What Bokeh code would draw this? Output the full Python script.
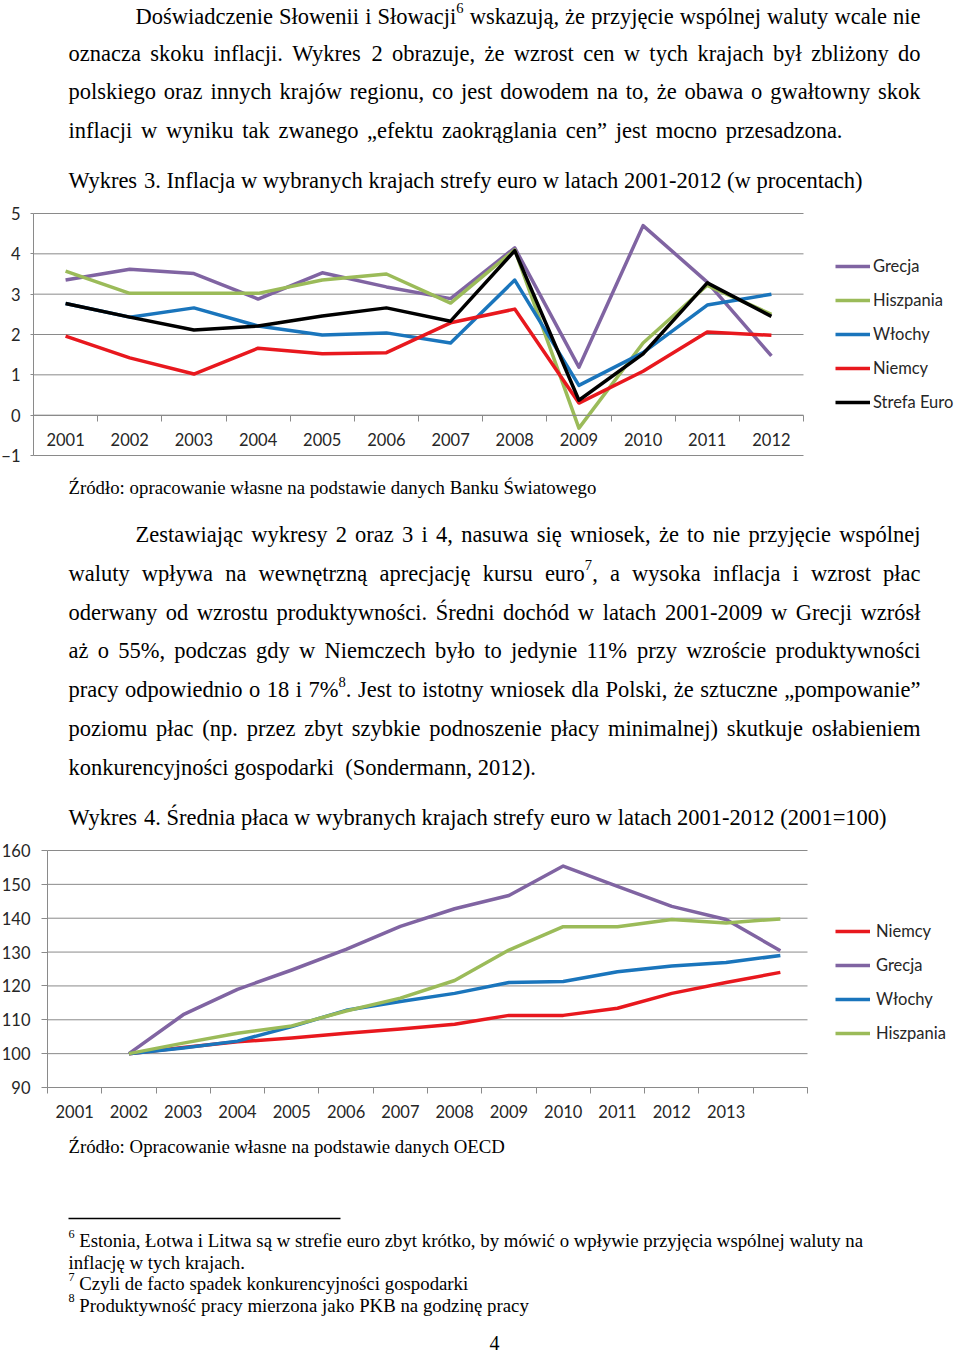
import re
from bokeh.plotting import figure
from bokeh.models import (Range1d, LinearAxis, FixedTicker, Legend, LegendItem,
                          CustomJSTickFormatter)
from bokeh.layouts import column
from bokeh.core.properties import value
from bokeh.embed import file_html
from bokeh.resources import INLINE

# ---------------- data: Wykres 3 (inflation, %) ----------------
years3 = ["2001", "2002", "2003", "2004", "2005", "2006",
          "2007", "2008", "2009", "2010", "2011", "2012"]
grecja3 = [3.35, 3.62, 3.51, 2.88, 3.53, 3.18, 2.89, 4.15, 1.19, 4.70, 3.30, 1.47]
hiszpania3 = [3.57, 3.02, 3.02, 3.02, 3.35, 3.50, 2.78, 4.10, -0.32, 1.79, 3.22, 2.50]
wlochy3 = [2.77, 2.43, 2.66, 2.21, 1.99, 2.04, 1.79, 3.35, 0.74, 1.55, 2.73, 3.00]
niemcy3 = [1.96, 1.42, 1.02, 1.66, 1.52, 1.55, 2.29, 2.63, 0.30, 1.09, 2.06, 1.98]
strefa3 = [2.77, 2.43, 2.11, 2.21, 2.46, 2.66, 2.33, 4.08, 0.37, 1.52, 3.28, 2.45]
yticks3 = [-1, 0, 1, 2, 3, 4, 5]
labels3 = ["Grecja", "Hiszpania", "Włochy", "Niemcy", "Strefa Euro"]

# ---------------- data: Wykres 4 (average wage, 2001=100) ----------------
years4 = ["2001", "2002", "2003", "2004", "2005", "2006", "2007",
          "2008", "2009", "2010", "2011", "2012", "2013"]
niemcy4 = [100, 101.8, 103.5, 104.6, 106.0, 107.3, 108.7, 111.3, 111.3, 113.4, 117.8, 121.0, 124.0]
grecja4 = [100, 111.5, 119.0, 124.7, 130.8, 137.6, 142.8, 146.7, 155.4, 149.4, 143.5, 139.6, 130.4]
wlochy4 = [100, 101.7, 103.7, 108.0, 112.8, 115.4, 117.8, 121.0, 121.3, 124.2, 125.9, 126.9, 129.0]
hiszpania4 = [100, 103.1, 106.0, 108.2, 112.6, 116.4, 121.6, 130.6, 137.5, 137.5, 139.6, 138.6, 139.8]
yticks4 = [90, 100, 110, 120, 130, 140, 150, 160]
labels4 = ["Niemcy", "Grecja", "Włochy", "Hiszpania"]

PURPLE, GREEN, BLUE, RED, BLACK = "#8064A2", "#9BBB59", "#1A75BC", "#E8181E", "#000000"
GRID = "#8a8a8a"
LBL = "#262626"
CFONT = "Lato"
SERIF = "Liberation Serif"
PAGE_L, PAGE_R = 0, 960     # page x covered by the figures

# ---------------- text helpers ----------------
TNR = {' ': 250, ',': 250, '.': 250, ':': 278, '(': 333, ')': 333, '-': 333, '%': 833,
       '=': 564, '„': 444, '”': 444,
       'a': 444, 'b': 500, 'c': 444, 'd': 500, 'e': 444, 'f': 333, 'g': 500, 'h': 500,
       'i': 278, 'j': 278, 'k': 500, 'l': 278, 'm': 778, 'n': 500, 'o': 500, 'p': 500,
       'q': 500, 'r': 333, 's': 389, 't': 278, 'u': 500, 'v': 500, 'w': 722, 'x': 500,
       'y': 500, 'z': 444,
       'A': 722, 'B': 667, 'C': 667, 'D': 722, 'E': 611, 'F': 556, 'G': 722, 'H': 722,
       'I': 333, 'J': 389, 'K': 722, 'L': 611, 'M': 889, 'N': 722, 'O': 722, 'P': 556,
       'Q': 722, 'R': 667, 'S': 556, 'T': 611, 'U': 722, 'V': 722, 'W': 944, 'X': 722,
       'Y': 722, 'Z': 611,
       'ą': 444, 'ć': 444, 'ę': 444, 'ł': 278, 'ń': 500, 'ó': 500, 'ś': 389, 'ź': 444,
       'ż': 444, 'Ł': 611, 'Ś': 556, 'Ź': 611, 'Ż': 611}
for _d in "0123456789":
    TNR[_d] = 500
SUP = 0.65


def tw(s, size):
    return sum(TNR.get(ch, 500) for ch in s) / 1000.0 * size


def parse_word(w):
    parts = re.split(r'\^(\d)', w)
    return [(p, i % 2 == 1) for i, p in enumerate(parts) if p != ""]


def layout_line(items, line, x0, base, size, justify_to=None):
    words = line.split(" ")
    segs = [parse_word(w) for w in words]
    widths = [sum(tw(t, size * SUP if s else size) for t, s in sg) for sg in segs]
    space = tw(" ", size)
    if justify_to is not None and len(words) > 1:
        space = (justify_to - x0 - sum(widths)) / (len(words) - 1)
    x = x0
    for sg in segs:
        for t, s in sg:
            if s:
                items.append((x, base - 0.36 * size, t, round(size * SUP, 1)))
                x += tw(t, size * SUP)
            else:
                items.append((x, base, t, size))
                x += tw(t, size)
        x += space


def draw_items(f, items, align="left"):
    groups = {}
    for x, y, t, s in items:
        groups.setdefault(s, []).append((x, y, t))
    for s, lst in groups.items():
        f.text(x=[a[0] for a in lst], y=[a[1] for a in lst], text=[a[2] for a in lst],
               text_font=value(SERIF), text_font_size=f"{s}px",
               text_baseline="alphabetic", text_align=align, text_color="black")


def text_fig(y_top, y_bot):
    f = figure(width=PAGE_R - PAGE_L, height=y_bot - y_top, x_range=Range1d(PAGE_L, PAGE_R),
               y_range=Range1d(y_bot, y_top), x_axis_type=None, y_axis_type=None,
               output_backend="svg", toolbar_location=None, min_border=0)
    f.outline_line_color = None
    return f


BODY = 22.5
SMALL = 18.8
RIGHT = 920

# ---------------- top text ----------------
t1 = text_fig(0, 200)
it = []
layout_line(it, "Doświadczenie Słowenii i Słowacji^6 wskazują, że przyjęcie wspólnej waluty wcale nie", 135, 16, BODY, RIGHT)
layout_line(it, "oznacza skoku inflacji. Wykres 2 obrazuje, że wzrost cen w tych krajach był zbliżony do", 68, 53, BODY, RIGHT)
layout_line(it, "polskiego oraz innych krajów regionu, co jest dowodem na to, że obawa o gwałtowny skok", 68, 91, BODY, RIGHT)
layout_line(it, "inflacji w wyniku tak zwanego „efektu zaokrąglania cen” jest mocno przesadzona.", 68, 130, BODY, 842)
layout_line(it, "Wykres 3. Inflacja w wybranych krajach strefy euro w latach 2001-2012 (w procentach)", 68, 180, BODY)
draw_items(t1, it)


# ---------------- chart builder ----------------
def make_chart(labels, n_slots, xpos, series, yticks, geom, x_fixed, tick_out_y,
               y_standoff, x_standoff, legend_loc, legend_standoff):
    top, bottom, fl, fr, ft, fb = geom
    ymin, ymax = yticks[0], yticks[-1]
    ux = (fr - fl) / n_slots
    uy = (fb - ft) / (ymax - ymin)
    p = figure(width=PAGE_R - PAGE_L, height=bottom - top,
               x_range=Range1d(-0.5 - (fl - PAGE_L) / ux, n_slots - 0.5 + (PAGE_R - fr) / ux),
               y_range=Range1d(ymin - (bottom - fb) / uy, ymax + (ft - top) / uy),
               output_backend="svg", toolbar_location=None, min_border=0)
    p.outline_line_color = None
    p.xgrid.visible = False
    p.ygrid.visible = False
    # horizontal gridlines across the category area only
    p.segment(x0=[-0.5] * len(yticks), x1=[n_slots - 0.5] * len(yticks), y0=yticks, y1=yticks,
              line_color=GRID, line_width=1)
    xa = p.xaxis[0]
    xa.ticker = FixedTicker(ticks=list(range(len(labels))))
    xa.major_label_overrides = {i: lab for i, lab in enumerate(labels)}
    xa.fixed_location = x_fixed
    xa.bounds = (-0.5, n_slots - 0.5)
    xa.axis_line_color = GRID
    xa.major_tick_line_color = None
    xa.major_tick_out = 0
    xa.major_tick_in = 0
    xa.minor_tick_line_color = None
    xa.major_label_standoff = x_standoff
    xa.major_label_text_font = CFONT
    xa.major_label_text_font_size = "16.5px"
    xa.major_label_text_color = LBL
    ya = p.yaxis[0]
    ya.fixed_location = -0.5
    ya.bounds = (ymin, ymax)
    ya.ticker = FixedTicker(ticks=yticks)
    ya.axis_line_color = GRID
    ya.major_tick_line_color = GRID
    ya.major_tick_out = tick_out_y
    ya.major_tick_in = 0
    ya.minor_tick_line_color = None
    ya.major_label_standoff = y_standoff
    ya.major_label_text_font = CFONT
    ya.major_label_text_font_size = "16.5px"
    ya.major_label_text_color = LBL
    ea = LinearAxis(ticker=FixedTicker(ticks=[i - 0.5 for i in range(n_slots + 1)]),
                    formatter=CustomJSTickFormatter(code="return ''"),
                    fixed_location=x_fixed, major_tick_out=6, major_tick_in=0,
                    major_tick_line_color=GRID, minor_tick_line_color=None,
                    axis_line_color=None)
    p.add_layout(ea, "below")
    items = []
    for lab, vals, col in series:
        r = p.line(x=xpos, y=vals, line_color=col, line_width=3.5, line_join="round")
        items.append(LegendItem(label=lab, renderers=[r]))
    lg = Legend(items=items, location=legend_loc, orientation="vertical",
                border_line_color=None, background_fill_alpha=0, padding=0, margin=0,
                spacing=14, glyph_height=20, glyph_width=35, label_height=20,
                label_standoff=legend_standoff, label_text_font=CFONT,
                label_text_font_size="16.5px", label_text_color=LBL)
    p.add_layout(lg)
    return p


# ---------------- Wykres 3 ----------------
n3 = len(years3)
p1 = make_chart(years3, n3, list(range(n3)),
                list(zip(labels3, [grecja3, hiszpania3, wlochy3, niemcy3, strefa3],
                         [PURPLE, GREEN, BLUE, RED, BLACK])),
                yticks3, (200, 470, 33, 803, 213, 455), 0, 3, 10, 18, (835, 58), 3)

# ---------------- middle text ----------------
t2 = text_fig(470, 835)
it = []
layout_line(it, "Źródło: opracowanie własne na podstawie danych Banku Światowego", 68, 487, SMALL)
mid = [
    ("Zestawiając wykresy 2 oraz 3 i 4, nasuwa się wniosek, że to nie przyjęcie wspólnej", 135, True),
    ("waluty wpływa na wewnętrzną aprecjację kursu euro^7, a wysoka inflacja i wzrost płac", 68, True),
    ("oderwany od wzrostu produktywności. Średni dochód w latach 2001-2009 w Grecji wzrósł", 68, True),
    ("aż o 55%, podczas gdy w Niemczech było to jedynie 11% przy wzroście produktywności", 68, True),
    ("pracy odpowiednio o 18 i 7%^8. Jest to istotny wniosek dla Polski, że sztuczne „pompowanie”", 68, True),
    ("poziomu płac (np. przez zbyt szybkie podnoszenie płacy minimalnej) skutkuje osłabieniem", 68, True),
    ("konkurencyjności gospodarki  (Sondermann, 2012).", 68, False),
]
for i, (line, x0, just) in enumerate(mid):
    layout_line(it, line, x0, 534 + i * 38.8, BODY, RIGHT if just else None)
layout_line(it, "Wykres 4. Średnia płaca w wybranych krajach strefy euro w latach 2001-2012 (2001=100)", 68, 817, BODY)
draw_items(t2, it)

# ---------------- Wykres 4 ----------------
n4 = len(years4) + 1                          # one extra, unlabeled slot on the category axis
xpos4 = [i + 1 for i in range(len(years4))]   # series drawn one slot to the right
p2 = make_chart(years4, n4, xpos4,
                list(zip(labels4, [niemcy4, grecja4, wlochy4, hiszpania4],
                         [RED, PURPLE, BLUE, GREEN])),
                yticks4, (835, 1125, 47, 807, 850, 1087), 90, 6, 11, 17, (835, 82), 6)

# ---------------- bottom text ----------------
t3 = text_fig(1125, 1353)
it = []
layout_line(it, "Źródło: Opracowanie własne na podstawie danych OECD", 68, 1146, SMALL)
layout_line(it, "^6 Estonia, Łotwa i Litwa są w strefie euro zbyt krótko, by mówić o wpływie przyjęcia wspólnej waluty na", 68, 1240, SMALL)
layout_line(it, "inflację w tych krajach.", 68, 1261.5, SMALL)
layout_line(it, "^7 Czyli de facto spadek konkurencyjności gospodarki", 68, 1283, SMALL)
layout_line(it, "^8 Produktywność pracy mierzona jako PKB na godzinę pracy", 68, 1304.5, SMALL)
draw_items(t3, it)
t3.segment(x0=[68], y0=[1218], x1=[340], y1=[1218], line_color="black", line_width=1.3)
t3.text(x=[494], y=[1342], text=["4"], text_font=value(SERIF), text_font_size="20px",
        text_baseline="alphabetic", text_align="center", text_color="black")

layout = column(t1, p1, t2, p2, t3, spacing=0)
open("out.html", "w").write(file_html(layout, INLINE))
